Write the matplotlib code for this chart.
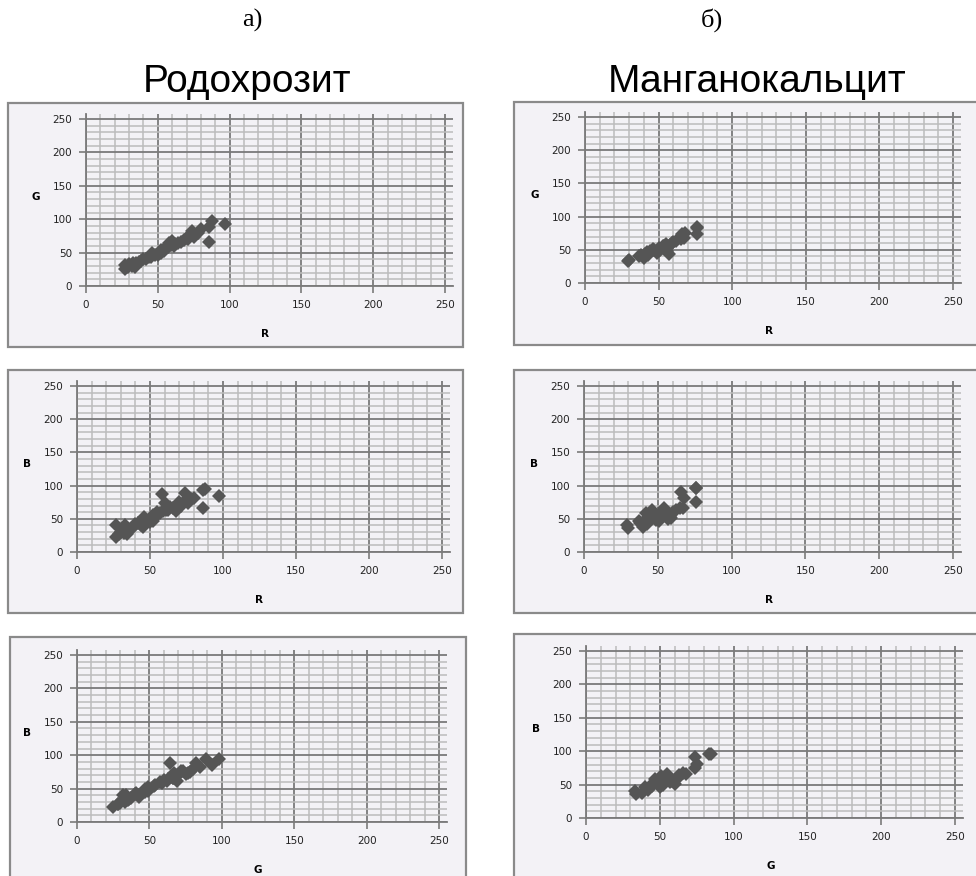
import matplotlib
matplotlib.use('Agg')
import matplotlib.pyplot as plt
from matplotlib.patches import Rectangle
from matplotlib.ticker import MultipleLocator

# Родохрозит: R, G, B values of the samples
rodo_R = [27, 27, 29, 30, 32, 33, 34, 35, 37, 38, 40, 42, 44, 45, 45, 46, 48, 50, 51, 52, 52, 54,
          55, 57, 58, 59, 60, 61, 62, 64, 66, 68, 70, 71, 72, 73, 74, 75, 76, 78, 80, 86, 86, 88, 97]
rodo_G = [25, 32, 28, 33, 30, 34, 28, 35, 36, 37, 40, 41, 43, 47, 43, 49, 46, 47, 50, 49, 54, 53,
          57, 59, 64, 62, 67, 60, 63, 65, 66, 69, 72, 70, 75, 78, 82, 73, 77, 80, 85, 66, 89, 98, 93]
rodo_B = [23, 40, 27, 30, 28, 41, 27, 33, 35, 36, 42, 44, 40, 50, 38, 52, 47, 45, 50, 47, 55, 54,
          60, 58, 88, 62, 74, 63, 64, 68, 66, 62, 76, 70, 72, 75, 89, 77, 74, 80, 82, 66, 94, 95, 85]

# Манганокальцит
mang_R = [29, 30, 37, 38, 40, 41, 42, 43, 44, 46, 47, 49, 50, 51, 53, 54, 55, 56, 57, 58, 59, 60,
          62, 65, 66, 67, 68, 76, 76, 76]
mang_G = [33, 34, 40, 42, 38, 44, 47, 42, 48, 51, 50, 45, 52, 50, 56, 55, 58, 48, 44, 57, 60, 62,
          63, 66, 74, 68, 75, 85, 83, 74]
mang_B = [40, 36, 46, 44, 37, 48, 58, 42, 52, 63, 55, 48, 50, 46, 60, 66, 56, 53, 50, 54, 51, 60,
          64, 67, 91, 66, 81, 96, 96, 75]

W, H = 976, 876
fig = plt.figure(figsize=(W / 100, H / 100), dpi=100)

def fx(px):
    return px / W

def fy(py):
    return 1 - py / H

# panel frames (px): x0, x1, y0, y1
frames = [(8, 463, 103, 347), (514, 985, 102, 345),
          (8, 463, 370, 613), (514, 985, 370, 613),
          (10, 466, 637, 885), (514, 985, 634, 885)]
for x0, x1, y0, y1 in frames:
    fig.patches.append(Rectangle((fx(x0), fy(y1)), fx(x1) - fx(x0), fy(y0) - fy(y1),
                                 transform=fig.transFigure, facecolor='#f3f2f6',
                                 edgecolor='#8a8a8a', linewidth=1.6, zorder=-5))

# axes boxes for the 0..250 range (px): x0, x1, y0, y1
boxes = [(86, 445, 119, 286), (585, 953, 117, 283),
         (77, 442, 386, 552), (584, 953, 386, 552),
         (77, 439, 655, 822), (586, 955, 651, 818)]
panels = [(rodo_R, rodo_G, 'R', 'G'), (mang_R, mang_G, 'R', 'G'),
          (rodo_R, rodo_B, 'R', 'B'), (mang_R, mang_B, 'R', 'B'),
          (rodo_G, rodo_B, 'G', 'B'), (mang_G, mang_B, 'G', 'B')]

ext_r, ext_t = 8, 5  # grid overhang beyond the 250 lines, px

for (x0, x1, y0, y1), (xs, ys, xl, yl) in zip(boxes, panels):
    wpx, hpx = x1 - x0, y1 - y0
    ax = fig.add_axes([fx(x0), fy(y1), fx(x1 + ext_r) - fx(x0), fy(y0 - ext_t) - fy(y1)])
    ax.set_zorder(1)
    ax.set_facecolor('none')
    ax.set_xlim(0, 250 * (wpx + ext_r) / wpx)
    ax.set_ylim(0, 250 * (hpx + ext_t) / hpx)
    ax.xaxis.set_major_locator(MultipleLocator(50))
    ax.yaxis.set_major_locator(MultipleLocator(50))
    ax.xaxis.set_minor_locator(MultipleLocator(10))
    ax.yaxis.set_minor_locator(MultipleLocator(10))
    ax.grid(which='minor', color='#bcbcbc', linewidth=1.1)
    ax.grid(which='major', color='#7a7a7a', linewidth=1.3)
    ax.set_axisbelow(True)
    for s in ['top', 'right']:
        ax.spines[s].set_visible(False)
    for s in ['left', 'bottom']:
        ax.spines[s].set_color('#7a7a7a')
        ax.spines[s].set_linewidth(1.3)
    ax.tick_params(which='major', direction='out', length=5, color='#7a7a7a',
                   width=1.2, labelsize=7.5, labelcolor='#222222', pad=5)
    ax.tick_params(which='minor', length=0)
    ax.plot(xs, ys, linestyle='none', marker='D', markersize=7.5,
            color='#555555', markeredgewidth=0, clip_on=False)
    ax.set_xlabel(xl, fontsize=7.5, fontweight='bold')
    ax.set_ylabel(yl, fontsize=7.5, fontweight='bold', rotation=0)
    ax.xaxis.set_label_coords(0.5 * wpx / (wpx + ext_r), -42 / hpx)
    ax.yaxis.set_label_coords(-50 / (wpx + ext_r), 0.5 * hpx / (hpx + ext_t))

fig.text(fx(252), fy(20), 'а)', family='Liberation Serif', fontsize=19,
         ha='center', va='center')
fig.text(fx(712), fy(20), 'б)', family='Liberation Serif', fontsize=19,
         ha='center', va='center')
fig.text(fx(247), fy(82), 'Родохрозит', family='Liberation Sans', fontsize=28,
         ha='center', va='center')
fig.text(fx(757), fy(82), 'Манганокальцит', family='Liberation Sans', fontsize=28,
         ha='center', va='center')

fig.savefig('out.png', dpi=100)
